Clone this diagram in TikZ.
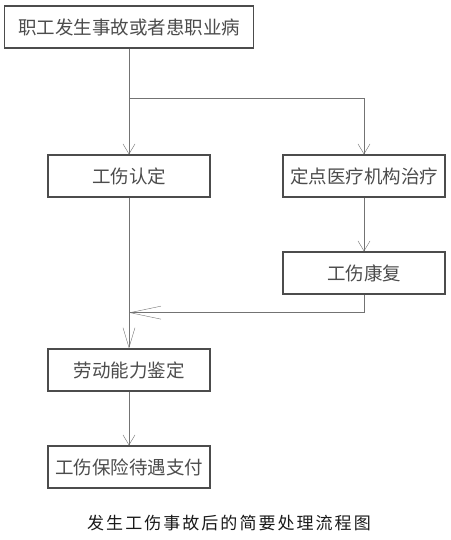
\documentclass[tikz,border=0pt]{standalone}
\usepackage{fontspec}
\newfontfamily\cjk{Noto Sans CJK SC}
\newfontfamily\capfont[LetterSpace=12]{Noto Sans CJK SC}
\usetikzlibrary{arrows.meta,positioning}
\tikzset{
    %Define standard arrow tip
    >={Straight Barb[length=10pt,width=12pt]},
    line width=1pt,
    kasten/.style={
      rectangle,
      draw=black!70, line width=1.3pt,
      minimum width=162pt,
      minimum height=42pt,
      inner sep=0pt,
      text=black!70,
      font=\cjk\fontsize{18.5pt}{20pt}\selectfont,
      text centered},
    linie/.style={
      draw=black!55},
}

\begin{document}
\begin{tikzpicture}[node distance=97pt]
    \useasboundingbox (0,0) rectangle (450pt,-540pt);
    \node (top) [kasten, minimum width=249pt] at (129pt,-27pt)
          {职工发生事故或者患职业病};
    \node (rd) [kasten] [below of=top, yshift=-52pt]
          {工伤认定};
    \node (yl) [kasten] [right of=rd, xshift=138pt]
          {定点医疗机构治疗};
    \node (kf) [kasten] [below of=yl]
          {工伤康复};
    \node (jd) [kasten] [below of=rd, yshift=-97pt]
          {劳动能力鉴定};
    \node (zf) [kasten] [below of=jd]
          {工伤保险待遇支付};
    \node (cap) [font=\capfont\fontsize{17pt}{19pt}\selectfont, text=black!90] at (229pt,-523pt)
          {发生工伤事故后的简要处理流程图};
    % fork and merge points
    \coordinate [below=50pt of top.south] (fork);
    \coordinate [below=115pt of rd.south] (merge);
    \draw [->, linie] (top) -- (rd);
    \draw [->, linie] (fork) -| (yl);
    \draw [->, linie] (yl) -- (kf);
    \draw [->, linie, >={Straight Barb[length=20pt,width=12pt]}] (rd) -- (jd);
    \draw [->, linie, >={Straight Barb[length=31pt,width=13pt]}] (kf) |- (merge);
    \draw [->, linie] (jd) -- (zf);
\end{tikzpicture}
\end{document}
